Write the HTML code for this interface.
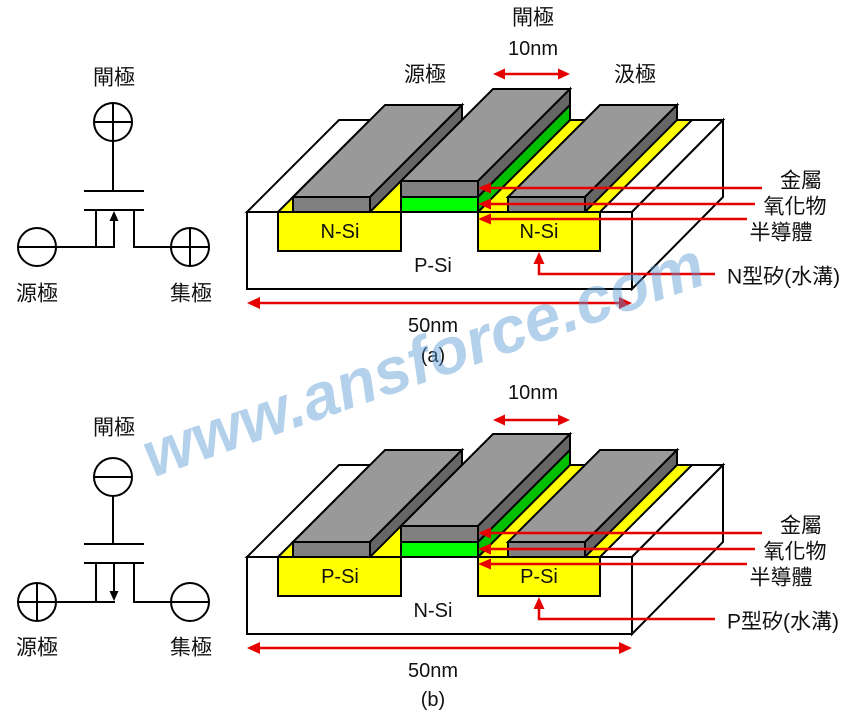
<!DOCTYPE html>
<html><head><meta charset="utf-8"><style>
html,body{margin:0;padding:0;background:#fff;}
svg{display:block;}
text{font-family:"Liberation Sans","Noto Sans CJK TC",sans-serif;fill:#111;}
.cjk{font-size:21px;}
.lat{font-size:20px;}
</style></head><body>
<svg width="860" height="720" viewBox="0 0 860 720" xmlns="http://www.w3.org/2000/svg">
<defs>
<g id="dev" stroke="#000" stroke-width="2" stroke-linejoin="miter">
  <!-- substrate -->
  <polygon points="247,212 339,120 723,120 632,212" fill="#fff"/>
  <polygon points="632,212 723,120 723,197 632,289" fill="#fff"/>
  <rect x="247" y="212" width="385" height="77" fill="#fff"/>
  <!-- N-Si top strips -->
  <polygon points="278,212 370,120 493,120 401,212" fill="#ffff00"/>
  <polygon points="478,212 570,120 692,120 600,212" fill="#ffff00"/>
  <!-- source block -->
  <polygon points="293,197 385,105 462,105 370,197" fill="#999"/>
  <polygon points="370,197 462,105 462,120 370,212" fill="#666"/>
  <rect x="293" y="197" width="77" height="15" fill="#808080"/>
  <!-- gate block -->
  <polygon points="401,181 493,89 570,89 478,181" fill="#999"/>
  <polygon points="478,181 570,89 570,105 478,197" fill="#666"/>
  <polygon points="478,197 570,105 570,120 478,212" fill="#00c000"/>
  <rect x="401" y="181" width="77" height="16" fill="#808080"/>
  <rect x="401" y="197" width="77" height="15" fill="#00ff00"/>
  <!-- drain block -->
  <polygon points="508,197 600,105 677,105 585,197" fill="#999"/>
  <polygon points="585,197 677,105 677,120 585,212" fill="#666"/>
  <rect x="508" y="197" width="77" height="15" fill="#808080"/>
  <!-- front wells -->
  <rect x="278" y="212" width="123" height="39" fill="#ffff00"/>
  <rect x="478" y="212" width="122" height="39" fill="#ffff00"/>
</g>
<g id="arr" fill="#e60000">
  <g stroke="#e60000" stroke-width="2.5" fill="none">
    <line x1="259" y1="303" x2="620" y2="303"/>
    <line x1="489" y1="188" x2="762" y2="188"/>
    <line x1="489" y1="204" x2="755" y2="204"/>
    <line x1="489" y1="219" x2="747" y2="219"/>
    <polyline points="715,274 539,274 539,263"/>
  </g>
  <polygon points="247,303 260,297 260,309"/>
  <polygon points="632,303 619,297 619,309"/>
  <polygon points="478,188 491,182.5 491,193.5"/>
  <polygon points="478,204 491,198.5 491,209.5"/>
  <polygon points="478,219 491,213.5 491,224.5"/>
  <polygon points="539,252 533.5,264 544.5,264"/>
</g>
</defs>

<!-- ===== TOP DIAGRAM ===== -->
<use href="#dev"/>
<use href="#arr"/>
<g stroke="#e60000" stroke-width="2.5"><line x1="503" y1="74" x2="560" y2="74"/></g>
<g fill="#e60000"><polygon points="493,74 505,68.5 505,79.5"/><polygon points="570,74 558,68.5 558,79.5"/></g>

<text class="cjk" x="533" y="18" text-anchor="middle" dominant-baseline="central">閘極</text>
<text class="lat" x="533" y="49" text-anchor="middle" dominant-baseline="central">10nm</text>
<text class="cjk" x="425" y="75" text-anchor="middle" dominant-baseline="central">源極</text>
<text class="cjk" x="635" y="75" text-anchor="middle" dominant-baseline="central">汲極</text>
<text class="lat" x="340" y="232" text-anchor="middle" dominant-baseline="central">N-Si</text>
<text class="lat" x="539" y="232" text-anchor="middle" dominant-baseline="central">N-Si</text>
<text class="lat" x="433" y="266" text-anchor="middle" dominant-baseline="central">P-Si</text>
<text class="lat" x="433" y="326" text-anchor="middle" dominant-baseline="central">50nm</text>
<text class="lat" x="433" y="356" text-anchor="middle" dominant-baseline="central">(a)</text>
<text class="cjk" x="801" y="181" text-anchor="middle" dominant-baseline="central">金屬</text>
<text class="cjk" x="795" y="207" text-anchor="middle" dominant-baseline="central">氧化物</text>
<text class="cjk" x="781" y="233" text-anchor="middle" dominant-baseline="central">半導體</text>
<text class="cjk" x="727" y="277" dominant-baseline="central">N型矽(水溝)</text>

<!-- ===== BOTTOM DIAGRAM ===== -->
<g transform="translate(0,345)">
  <use href="#dev"/>
  <use href="#arr"/>
</g>
<g stroke="#e60000" stroke-width="2.5"><line x1="503" y1="420" x2="560" y2="420"/></g>
<g fill="#e60000"><polygon points="493,420 505,414.5 505,425.5"/><polygon points="570,420 558,414.5 558,425.5"/></g>
<text class="lat" x="533" y="393" text-anchor="middle" dominant-baseline="central">10nm</text>
<text class="lat" x="340" y="577" text-anchor="middle" dominant-baseline="central">P-Si</text>
<text class="lat" x="539" y="577" text-anchor="middle" dominant-baseline="central">P-Si</text>
<text class="lat" x="433" y="611" text-anchor="middle" dominant-baseline="central">N-Si</text>
<text class="lat" x="433" y="671" text-anchor="middle" dominant-baseline="central">50nm</text>
<text class="lat" x="433" y="700" text-anchor="middle" dominant-baseline="central">(b)</text>
<text class="cjk" x="801" y="526" text-anchor="middle" dominant-baseline="central">金屬</text>
<text class="cjk" x="795" y="552" text-anchor="middle" dominant-baseline="central">氧化物</text>
<text class="cjk" x="781" y="578" text-anchor="middle" dominant-baseline="central">半導體</text>
<text class="cjk" x="727" y="622" dominant-baseline="central">P型矽(水溝)</text>

<!-- ===== TOP SYMBOL ===== -->
<g stroke="#000" stroke-width="2" fill="none">
  <circle cx="113" cy="122" r="19" fill="#fff"/>
  <line x1="94" y1="122" x2="132" y2="122"/><line x1="113" y1="103" x2="113" y2="141"/>
  <line x1="113" y1="141" x2="113" y2="191"/>
  <line x1="84" y1="191" x2="144" y2="191"/>
  <line x1="84" y1="210" x2="144" y2="210"/>
  <line x1="96" y1="210" x2="96" y2="247"/>
  <line x1="56" y1="247" x2="115" y2="247"/>
  <line x1="114" y1="247" x2="114" y2="219"/>
  <line x1="134" y1="210" x2="134" y2="247"/>
  <line x1="133" y1="247" x2="171" y2="247"/>
  <circle cx="37" cy="247" r="19"/>
  <line x1="18" y1="247" x2="56" y2="247"/>
  <circle cx="190" cy="247" r="19"/>
  <line x1="171" y1="247" x2="209" y2="247"/><line x1="190" y1="228" x2="190" y2="266"/>
</g>
<polygon points="114,211 109.5,221 118.5,221" fill="#000"/>
<text class="cjk" x="114" y="78" text-anchor="middle" dominant-baseline="central">閘極</text>
<text class="cjk" x="37" y="294" text-anchor="middle" dominant-baseline="central">源極</text>
<text class="cjk" x="191" y="294" text-anchor="middle" dominant-baseline="central">集極</text>

<!-- ===== BOTTOM SYMBOL ===== -->
<g stroke="#000" stroke-width="2" fill="none">
  <circle cx="113" cy="477" r="19" fill="#fff"/>
  <line x1="94" y1="477" x2="132" y2="477"/>
  <line x1="113" y1="496" x2="113" y2="544"/>
  <line x1="84" y1="544" x2="144" y2="544"/>
  <line x1="84" y1="563" x2="144" y2="563"/>
  <line x1="96" y1="563" x2="96" y2="602"/>
  <line x1="56" y1="602" x2="115" y2="602"/>
  <line x1="114" y1="563" x2="114" y2="592"/>
  <line x1="134" y1="563" x2="134" y2="602"/>
  <line x1="133" y1="602" x2="171" y2="602"/>
  <circle cx="37" cy="602" r="19"/>
  <line x1="18" y1="602" x2="56" y2="602"/><line x1="37" y1="583" x2="37" y2="621"/>
  <circle cx="190" cy="602" r="19"/>
  <line x1="171" y1="602" x2="209" y2="602"/>
</g>
<polygon points="114,601 109.5,591 118.5,591" fill="#000"/>
<text class="cjk" x="114" y="428" text-anchor="middle" dominant-baseline="central">閘極</text>
<text class="cjk" x="37" y="648" text-anchor="middle" dominant-baseline="central">源極</text>
<text class="cjk" x="191" y="648" text-anchor="middle" dominant-baseline="central">集極</text>

<!-- ===== WATERMARK ===== -->
<text x="152" y="478" transform="rotate(-19.3 152 478)" style="font-family:'Liberation Sans',sans-serif;font-size:65px;font-weight:bold;font-style:italic;fill:#5a9ad6;opacity:0.45;">www.ansforce.com</text>
</svg>
</body></html>
